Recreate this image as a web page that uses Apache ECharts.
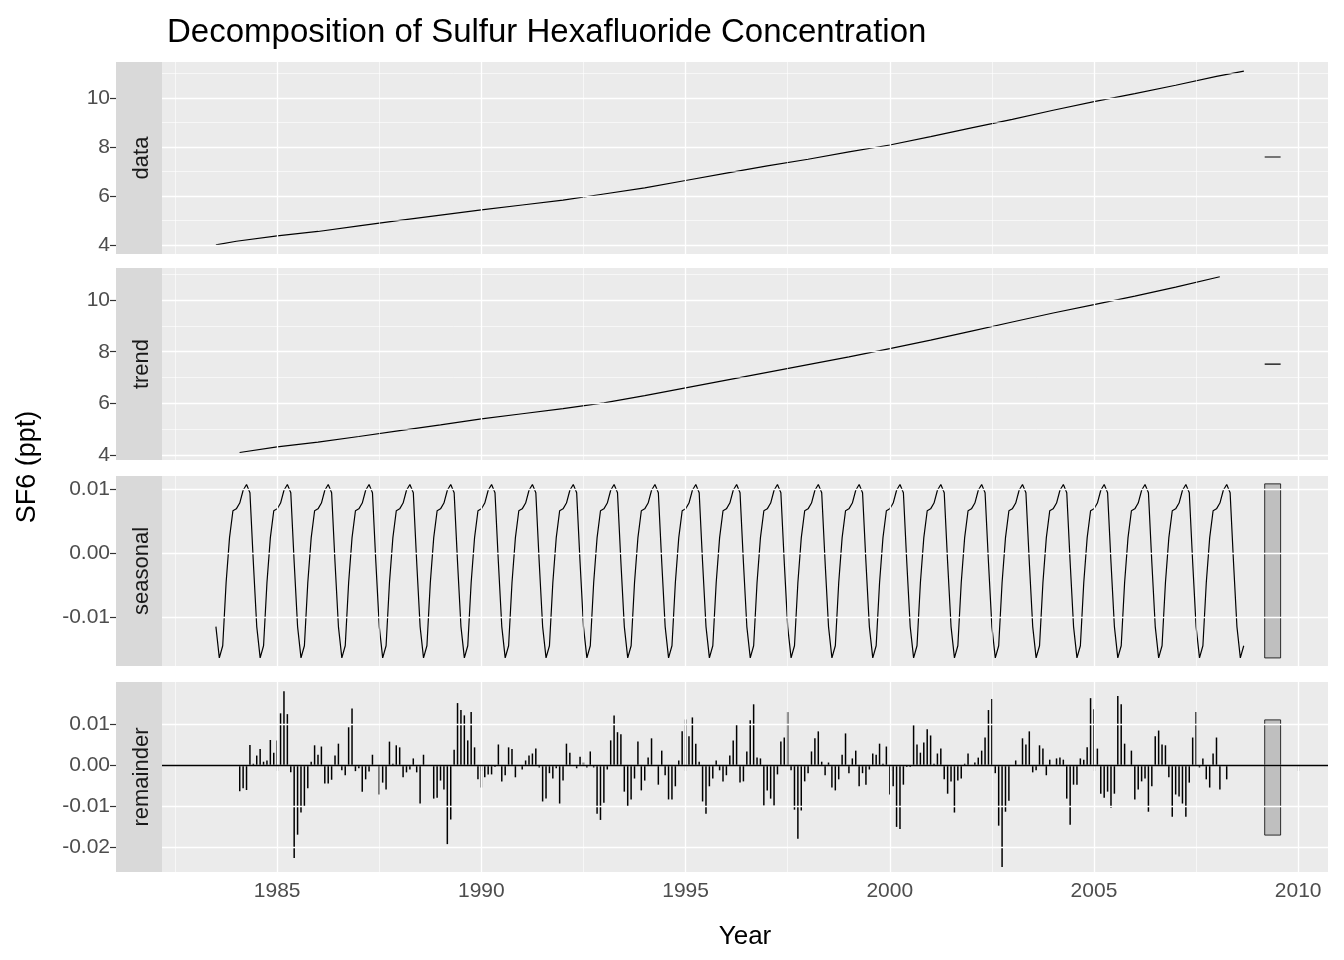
<!DOCTYPE html>
<html>
<head>
<meta charset="utf-8">
<script src="https://cdn.jsdelivr.net/npm/echarts@6/dist/echarts.min.js"></script>
<style>html,body{margin:0;padding:0;background:#fff}#main{width:1344px;height:960px}</style>
</head>
<body>
<div id="main"></div>
<script>
// observed series, read at roughly yearly points
var dataYears = [1983.5,1984,1985,1986,1987,1988,1989,1990,1991,1992,1993,1994,1995,1996,1997,1998,1999,2000,2001,2002,2003,2004,2005,2006,2007,2008,2008.67];
var dataValues = [4.0,4.15,4.37,4.55,4.78,5.0,5.22,5.43,5.63,5.83,6.08,6.33,6.63,6.93,7.23,7.5,7.8,8.08,8.42,8.78,9.13,9.5,9.85,10.18,10.52,10.88,11.1];

var trendYears = [1984.08,1985,1986,1987,1988,1989,1990,1991,1992,1993,1994,1995,1996,1997,1998,1999,2000,2001,2002,2003,2004,2005,2006,2007,2008.08];
var trendValues = [4.1,4.32,4.5,4.72,4.95,5.17,5.4,5.6,5.8,6.02,6.3,6.6,6.9,7.2,7.5,7.8,8.12,8.45,8.8,9.15,9.5,9.82,10.15,10.5,10.9];

// seasonal pattern, Jul..Jun (periodic)
var seasonalStart = 1983.5, seasonalMonths = 303;
var seasonalPattern = [-0.0115,-0.0164,-0.0145,-0.0046,0.0024,0.0066,0.0069,0.0078,0.0098,0.0107,0.0094,-0.0015];

// remainder, monthly from Feb 1984 (units of 0.001)
var remainderStart = 1984.083;
var remainder = [
-6.4,-5.7,-6.1,4.9,0.3,2.3,3.9,0.8,1.1,6.1,3.0,6.0,12.6,18.0,12.4,-1.8,-22.7,-17,-11.6,-10.2,
-5.7,0.8,4.8,2.5,4.5,-4.5,-4.5,-3.6,2.3,5.2,-1.3,-2.5,9.2,13.8,-1.5,-0.8,-6.5,-3.5,-1.6,2.5,
0,-7.2,-4.3,-6.0,5.7,0.3,4.8,4.3,-3.0,-1.8,-1.1,1.6,-1.8,-9.4,2.5,0,0,-8.2,-8.0,-3.8,
-6.0,-19.3,-13.3,3.7,15.1,13.4,12.1,6.0,12.9,4.3,-3.5,-5.5,-3.0,-2.3,-2.3,-0.5,5.0,-4.0,-2.5,4.3,
3.9,-3.0,0,-1.1,1.1,2.3,2.8,4.0,-0.6,-8.9,-8.2,-2.0,-3.3,-0.8,-9.4,-3.8,5.2,3.0,0,-0.8,
2.0,0.6,-0.6,3.3,-0.6,-11.9,-13.4,-9.2,-1.1,6.0,12.1,8.0,7.5,-6.5,-10.2,-8.4,-3.3,5.7,-6.2,-3.8,
1.8,6.5,0,-4.8,3.5,-2.5,-8.4,-8.4,-5.2,1.1,8.2,11.1,7.0,11.6,5.2,0.8,-8.9,-11.9,-5.2,-3.3,
1.1,-1.3,-4.0,-2.5,2.3,6.0,9.9,-4.3,-4.0,3.3,10.9,14.8,1.8,1.6,-9.9,-6.2,-8.2,-9.9,-2.3,5.7,
6.7,12.9,-1.3,-10.9,-18.0,-11.1,-4.0,-2.0,3.3,6.5,8.2,0.8,-2.5,0.6,-5.5,-6.2,-3.5,2.5,7.7,-2.0,
1.6,3.5,-5.2,-2.0,-4.8,-1.1,2.8,2.5,5.2,0.3,4.5,-7.2,-5.2,-15.1,-15.6,-4.8,-0.5,-0.5,9.7,5.0,
3.0,5.5,8.7,7.2,0.3,2.8,4.0,-3.5,-7.0,-4.0,-11.6,-3.8,-3.3,0.3,2.8,0,0.6,1.8,3.5,6.7,
13.4,16.1,-2.0,-14.8,-24.9,-11.4,-8.7,0,1.1,0,6.5,5.0,8.2,-1.8,-1.3,4.8,4.0,-2.5,1.3,0,
1.6,1.8,1.3,-8.2,-14.6,-4.8,-4.8,1.6,1.3,4.3,16.3,13.6,4.0,-7.0,-8.0,-6.5,-10.4,-7.0,16.8,14.8,
5.2,0,3.5,-8.4,-6.0,-4.0,-3.3,-11.4,-5.2,7.0,8.4,5.0,4.8,-3.0,-12.6,-7.2,-7.7,-9.4,-12.6,-4.3,
6.7,12.9,-0.6,1.6,-3.5,-5.5,2.8,6.7,-6.0,0,-3.5
];

var xTicks = [1985,1990,1995,2000,2005,2010];
var xMinor = [1982.5,1987.5,1992.5,1997.5,2002.5,2007.5];
var levelTicks = [4,6,8,10];
var levelMinor = [5,7,9,11];
var seasonalTicks = [-0.01,0,0.01];
var seasonalMinor = [-0.015,-0.005,0.005];
var remainderTicks = [-0.02,-0.01,0,0.01];
var remainderMinor = [-0.025,-0.015,-0.005,0.005,0.015];

var seasonalData = [];
for (var i = 0; i < seasonalMonths; i++) {
	seasonalData.push([seasonalStart + i / 12, seasonalPattern[i % 12]]);
}
var remainderData = remainder.map(function (v, i) { return [remainderStart + i / 12, v / 1000]; });
function pairs(xs, ys) { return xs.map(function (x, i) { return [x, ys[i]]; }); }

var panels = [
	{name: 'data', top: 62, height: 192, min: 3.63, max: 11.47, ticks: levelTicks, minor: levelMinor, dec: 0, range: 7.59},
	{name: 'trend', top: 268, height: 192, min: 3.81, max: 11.24, ticks: levelTicks, minor: levelMinor, dec: 0, range: 7.52},
	{name: 'seasonal', top: 476, height: 190, min: -0.01766, max: 0.01203, ticks: seasonalTicks, minor: seasonalMinor, dec: 2, box: [-0.0164, 0.0108]},
	{name: 'remainder', top: 682, height: 190, min: -0.0261, max: 0.02024, ticks: remainderTicks, minor: remainderMinor, dec: 2, box: [-0.0171, 0.011]}
];

var grids = [], xAxes = [], yAxes = [], series = [], graphics = [];
panels.forEach(function (p, k) {
	grids.push({left: 162, right: 16, top: p.top, height: p.height, show: true, backgroundColor: '#ebebeb', borderWidth: 0});
	xAxes.push({
		type: 'value', gridIndex: k, min: 1982.18, max: 2010.73,
		axisLine: {show: false}, splitLine: {show: false},
		axisTick: {show: k === 3, length: 6, lineStyle: {color: '#333', width: 1.2}, customValues: xTicks},
		axisLabel: {show: k === 3, fontSize: 21, color: '#4d4d4d', margin: 9, customValues: xTicks, formatter: function (v) { return v; }},
		name: k === 3 ? 'Year' : '', nameLocation: 'middle', nameGap: 52,
		nameTextStyle: {fontSize: 26, color: '#000'}
	});
	yAxes.push({
		type: 'value', gridIndex: k, min: p.min, max: p.max, offset: 46,
		axisLine: {show: false}, splitLine: {show: false},
		axisTick: {show: true, length: 6, lineStyle: {color: '#333', width: 1.2}, customValues: p.ticks},
		axisLabel: {fontSize: 21, color: '#4d4d4d', margin: 6, customValues: p.ticks, formatter: function (v) { return v.toFixed(p.dec); }}
	});
	var lines = [];
	p.minor.forEach(function (v) { lines.push({yAxis: v, lineStyle: {width: 0.6}}); });
	xMinor.forEach(function (v) { lines.push({xAxis: v, lineStyle: {width: 0.6}}); });
	p.ticks.forEach(function (v) { lines.push({yAxis: v, lineStyle: {width: 1.3}}); });
	xTicks.forEach(function (v) { lines.push({xAxis: v, lineStyle: {width: 1.3}}); });
	var bg = {
		type: 'line', xAxisIndex: k, yAxisIndex: k, data: [], z: 1, silent: true,
		markLine: {silent: true, symbol: 'none', label: {show: false}, animation: false,
			lineStyle: {color: '#fff', type: 'solid'}, data: lines}
	};
	if (p.box) {
		bg.markArea = {silent: true, animation: false,
			itemStyle: {color: '#bfbfbf', borderColor: '#000', borderWidth: 0.8},
			data: [[{coord: [2009.18, p.box[0]]}, {coord: [2009.57, p.box[1]]}]]};
	}
	series.push(bg);
	if (p.range) {
		series.push({type: 'line', xAxisIndex: k, yAxisIndex: k, data: [[2009.18, p.range], [2009.57, p.range]],
			symbol: 'none', lineStyle: {color: '#000', width: 1.2}, z: 3, silent: true});
	}
	graphics.push({type: 'rect', shape: {x: 116, y: p.top, width: 46, height: p.height}, style: {fill: '#d9d9d9'}});
	graphics.push({type: 'text', x: 142, y: p.top + p.height / 2, rotation: Math.PI / 2,
		style: {text: p.name, fill: '#1a1a1a', fontSize: 22, fontFamily: 'Liberation Sans', align: 'center', verticalAlign: 'middle'}});
});

series.push({type: 'line', xAxisIndex: 0, yAxisIndex: 0, data: pairs(dataYears, dataValues), symbol: 'none', lineStyle: {color: '#000', width: 1.2}, z: 3});
series.push({type: 'line', xAxisIndex: 1, yAxisIndex: 1, data: pairs(trendYears, trendValues), symbol: 'none', lineStyle: {color: '#000', width: 1.2}, z: 3});
series.push({type: 'line', xAxisIndex: 2, yAxisIndex: 2, data: seasonalData, symbol: 'none', lineStyle: {color: '#000', width: 1.2}, z: 3});
series.push({type: 'bar', xAxisIndex: 3, yAxisIndex: 3, data: remainderData, barWidth: 1.5, itemStyle: {color: '#000'}, z: 3,
	markLine: {silent: true, symbol: 'none', label: {show: false}, animation: false,
		lineStyle: {color: '#000', type: 'solid', width: 1.3}, data: [{yAxis: 0}]}});

graphics.push({type: 'text', x: 28, y: 467, rotation: Math.PI / 2,
	style: {text: 'SF6 (ppt)', fill: '#000', fontSize: 27, fontFamily: 'Liberation Sans', align: 'center', verticalAlign: 'middle'}});

var myChart = echarts.init(document.getElementById('main'));
var option = {
	animation: false,
	textStyle: {fontFamily: 'Liberation Sans'},
	title: {text: 'Decomposition of Sulfur Hexafluoride Concentration', left: 162, top: 11,
		textStyle: {fontSize: 33, fontWeight: 'normal', color: '#000'}},
	grid: grids,
	xAxis: xAxes,
	yAxis: yAxes,
	series: series,
	graphic: graphics
};
option && myChart.setOption(option);
</script>
</body>
</html>
